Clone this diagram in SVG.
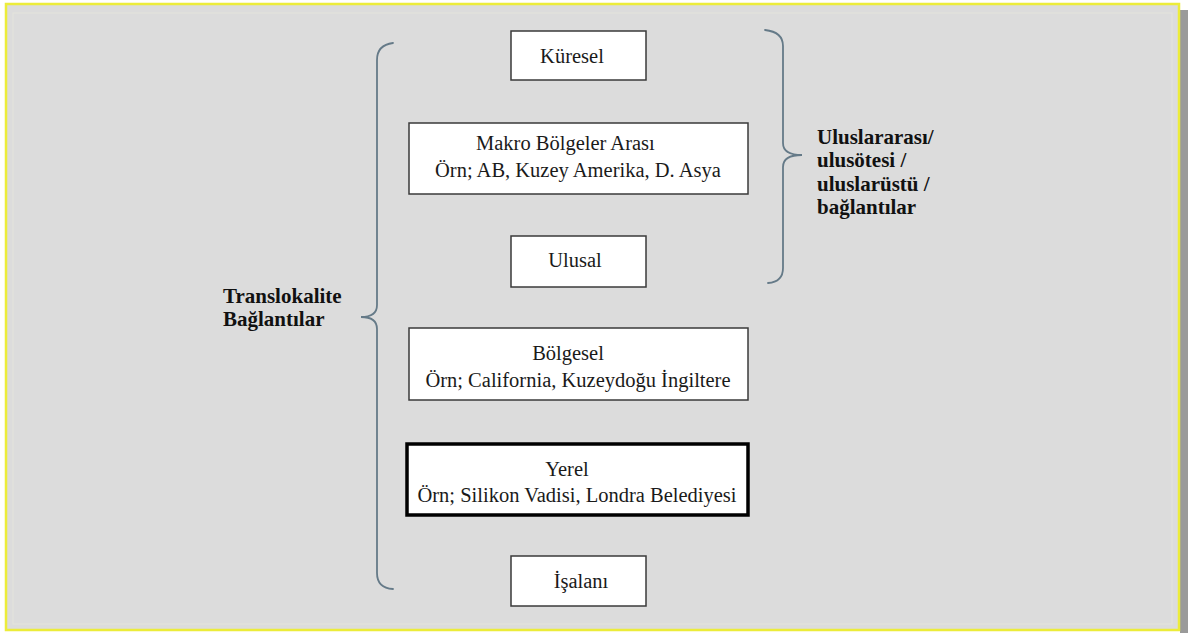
<svg xmlns="http://www.w3.org/2000/svg" width="1188" height="633" viewBox="0 0 1188 633">
<style>
.box{fill:#ffffff;stroke:#3a3a3a;stroke-width:1.5}
.thick{fill:#ffffff;stroke:#000000;stroke-width:3.5}
.t{font-family:"Liberation Serif","Times New Roman",serif;font-size:20.5px;fill:#1a1a1a}
.b{font-family:"Liberation Serif","Times New Roman",serif;font-size:21px;font-weight:bold;fill:#111111}
.brace{fill:none;stroke:#657a88;stroke-width:1.8;stroke-linecap:round}
</style>
<rect x="0" y="0" width="1188" height="633" fill="#ffffff"/>
<rect x="1180" y="10" width="8" height="623" fill="#9a9a9a"/>
<rect x="6" y="4" width="1173" height="626" fill="#dcdcdc" stroke="#ecec3a" stroke-width="2.5"/>
<rect x="13" y="13" width="1159" height="611" fill="none" stroke="#e4e4dc" stroke-width="1"/>

<g id="connectors">
<path class="brace" d="M393,43 Q377,45 377,60 L377,305 Q377,317 361,317 Q377,317 377,329 L377,573 Q377,588 393,589"/>
<path class="brace" d="M765,30 Q783,32 783,46 L783,143 Q783,155 802,155 Q783,155 783,167 L783,268 Q783,282 768,283"/>
</g>

<g id="kuresel">
<rect class="box" x="511" y="31" width="135" height="49"/>
<text class="t" x="572" y="63" text-anchor="middle">Küresel</text>
</g>
<g id="makro">
<rect class="box" x="409" y="123" width="339" height="71"/>
<text class="t" x="476" y="150">Makro Bölgeler Arası</text>
<text class="t" x="435" y="177">Örn; AB, Kuzey Amerika, D. Asya</text>
</g>
<g id="ulusal">
<rect class="box" x="511" y="236" width="135" height="51"/>
<text class="t" x="575" y="267" text-anchor="middle">Ulusal</text>
</g>
<g id="bolgesel">
<rect class="box" x="409" y="328" width="339" height="72"/>
<text class="t" x="568" y="360" text-anchor="middle">Bölgesel</text>
<text class="t" x="578" y="387" text-anchor="middle">Örn; California, Kuzeydoğu İngiltere</text>
</g>
<g id="yerel">
<rect class="thick" x="407" y="444" width="341" height="71"/>
<text class="t" x="567" y="476" text-anchor="middle">Yerel</text>
<text class="t" x="577" y="502" text-anchor="middle">Örn; Silikon Vadisi, Londra Belediyesi</text>
</g>
<g id="isalani">
<rect class="box" x="511" y="556" width="135" height="50"/>
<text class="t" x="581" y="588" text-anchor="middle">İşalanı</text>
</g>
<g id="translokalite">
<text class="b" x="223" y="303">Translokalite</text>
<text class="b" x="223" y="326">Bağlantılar</text>
</g>
<g id="uluslararasi">
<text class="b" x="817" y="144">Uluslararası/</text>
<text class="b" x="817" y="167">ulusötesi /</text>
<text class="b" x="817" y="191">uluslarüstü /</text>
<text class="b" x="817" y="214">bağlantılar</text>
</g>
</svg>
